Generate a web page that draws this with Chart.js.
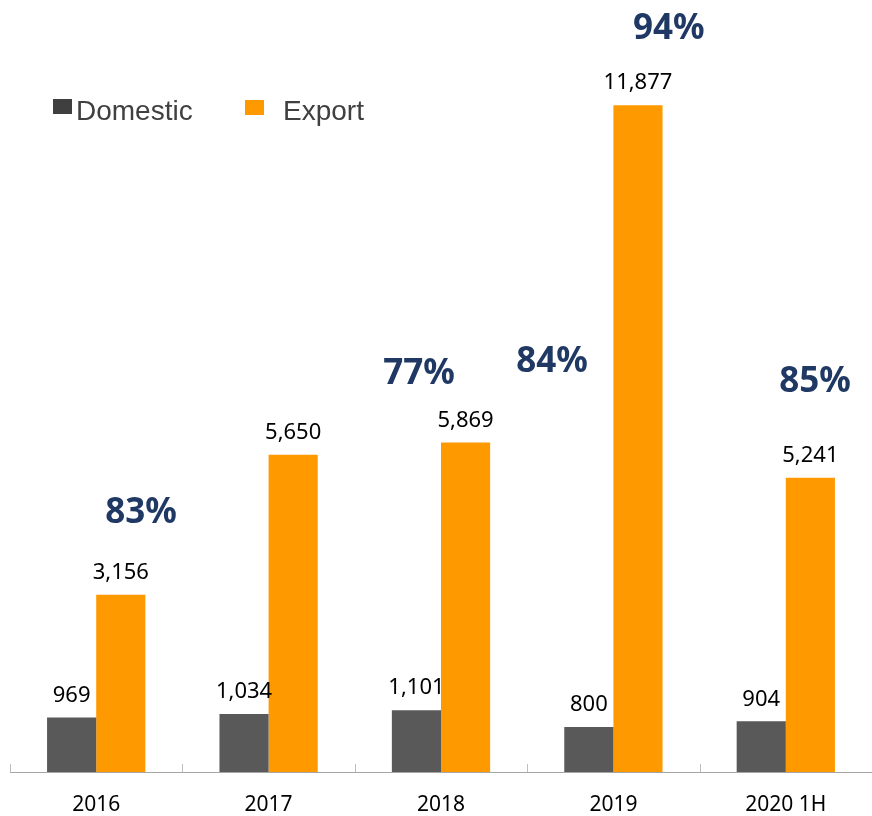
<!DOCTYPE html>
<html>
<head>
<meta charset="utf-8">
<script src="https://cdn.jsdelivr.net/npm/chart.js@4/dist/chart.umd.min.js"></script>
<style>
  html, body { margin: 0; padding: 0; background: #ffffff; }
  #wrap { width: 872px; height: 816px; position: relative; }
</style>
</head>
<body>
<div id="wrap"><canvas id="c" width="872" height="816"></canvas></div>
<script>
// Sales volume by market
const years = ['2016', '2017', '2018', '2019', '2020 1H'];
const domestic = [969, 1034, 1101, 800, 904];
const exportVol = [3156, 5650, 5869, 11877, 5241];
const exportShare = ['83%', '77%', '84%', '94%', '85%'];

const seriesNames = ['Domestic', 'Export'];
const COLORS = { domestic: '#595959', exportC: '#FF9900', legendDomestic: '#3F3F3F', share: '#1F3864' };

// where each share label sits: category position (fractional) and value height
const sharePlacement = [
  { x: 0.26, y: 4612 },
  { x: 1.872, y: 7087 },
  { x: 2.644, y: 7301 },
  { x: 3.321, y: 13230 },
  { x: 4.169, y: 6945 }
];

const fmt = v => v.toLocaleString('en-US');

const decorations = {
  id: 'decorations',
  afterDatasetsDraw(chart) {
    const ctx = chart.ctx;
    const xs = chart.scales.x, ys = chart.scales.y;
    const area = chart.chartArea;

    // small upward ticks at category boundaries
    ctx.save();
    ctx.strokeStyle = '#BFBFBF';
    ctx.lineWidth = 1;
    for (let i = 0; i <= years.length; i++) {
      const px = Math.round(xs.getPixelForValue(i - 0.5)) + 0.5;
      ctx.beginPath();
      ctx.moveTo(px, area.bottom);
      ctx.lineTo(px, area.bottom - 8);
      ctx.stroke();
    }
    ctx.restore();

    // value labels above bars
    ctx.save();
    ctx.font = '22px "Noto Sans"';
    ctx.fillStyle = '#000000';
    ctx.textAlign = 'center';
    ctx.textBaseline = 'middle';
    chart.data.datasets.forEach((ds, di) => {
      const meta = chart.getDatasetMeta(di);
      meta.data.forEach((bar, i) => {
        ctx.fillText(fmt(ds.data[i]), bar.x, bar.y - 22);
      });
    });
    ctx.restore();

    // export share labels
    ctx.save();
    ctx.font = 'bold 35px "Noto Sans"';
    ctx.fillStyle = COLORS.share;
    ctx.textAlign = 'center';
    ctx.textBaseline = 'middle';
    exportShare.forEach((t, i) => {
      const p = sharePlacement[i];
      ctx.fillText(t, xs.getPixelForValue(p.x), ys.getPixelForValue(p.y));
    });
    ctx.restore();

    // legend
    ctx.save();
    ctx.fillStyle = COLORS.legendDomestic;
    ctx.fillRect(53, 99, 19, 15);
    ctx.fillStyle = COLORS.exportC;
    ctx.fillRect(245, 100, 19, 15);
    ctx.font = '28px "Liberation Sans"';
    ctx.fillStyle = '#404040';
    ctx.textAlign = 'left';
    ctx.textBaseline = 'alphabetic';
    ctx.fillText(seriesNames[0], 76, 120);
    ctx.fillText(seriesNames[1], 283, 120);
    ctx.restore();
  }
};

new Chart(document.getElementById('c'), {
  type: 'bar',
  data: {
    labels: years,
    datasets: [
      { label: seriesNames[0], data: domestic, backgroundColor: COLORS.domestic, borderWidth: 0 },
      { label: seriesNames[1], data: exportVol, backgroundColor: COLORS.exportC, borderWidth: 0 }
    ]
  },
  options: {
    responsive: false,
    animation: false,
    devicePixelRatio: 1,
    layout: { padding: { left: 10, right: 0, top: 14, bottom: 0 } },
    datasets: { bar: { categoryPercentage: 0.57, barPercentage: 1.0 } },
    plugins: { legend: { display: false }, tooltip: { enabled: false } },
    scales: {
      x: {
        grid: { display: false },
        border: { display: true, color: '#A6A6A6', width: 1 },
        ticks: { color: '#000000', font: { family: '"Noto Sans"', size: 21 }, padding: 12, maxRotation: 0 },
        afterFit(scale) { scale.height = 44; }
      },
      y: {
        display: false,
        min: 0,
        max: 13500
      }
    }
  },
  plugins: [decorations]
});
</script>
</body>
</html>
